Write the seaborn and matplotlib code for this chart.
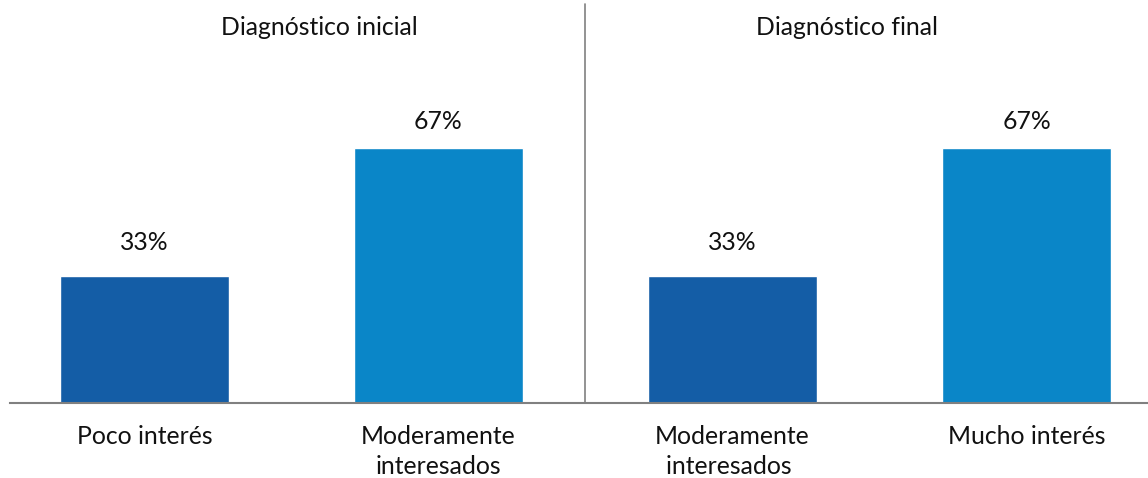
import matplotlib
matplotlib.use("Agg")
import matplotlib.pyplot as plt
import seaborn as sns
import pandas as pd

categories = ["Poco interés", "Moderamente\ninteresados", "Moderamente\ninteresados ", "Mucho interés"]
values = [33.3, 66.7, 33.3, 66.7]
labels = ["33%", "67%", "33%", "67%"]
groups = ["Diagnóstico inicial", "Diagnóstico final"]
colors = ["#145DA6", "#0A86C8", "#145DA6", "#0A86C8"]
label_pad = [8.6, 6.9, 8.6, 6.9]

df = pd.DataFrame({"cat": categories, "val": values})

sns.set_style("white")
plt.rcParams["font.family"] = ["Lato", "DejaVu Sans"]

W, H = 1148, 478
fig = plt.figure(figsize=(W / 100, H / 100), dpi=100)
base_y = 403
top_y = 21
ax = fig.add_axes([10 / W, (H - base_y) / H, 1 - 10 / W, (base_y - top_y) / H])

sns.barplot(data=df, x="cat", y="val", hue="cat", palette=colors, legend=False,
            width=0.575, saturation=1, ax=ax)

fs = 17.8
ax.set_ylim(0, 100)
ax.set_xlim(-0.457, 3.413)
for s in ["top", "right", "left"]:
    ax.spines[s].set_visible(False)
ax.spines["bottom"].set_color("#808080")
ax.spines["bottom"].set_linewidth(1.5)
ax.set_yticks([])
ax.set_xlabel("")
ax.set_ylabel("")
ax.tick_params(axis="x", length=0, pad=16, labelsize=fs, colors="#111111")
ax.set_xticks(range(4))
ax.set_xticklabels(categories, linespacing=1.38, va="top")

for i, (v, lab) in enumerate(zip(values, labels)):
    ax.text(i, v + label_pad[i], lab, ha="center", va="center", fontsize=fs, color="#111111")

ax.plot([1.5, 1.5], [0, 104.5], color="#808080", lw=1.2, clip_on=False)

ax.text(0.594, 98.3, groups[0], ha="center", va="center", fontsize=fs, color="#111111")
ax.text(2.39, 98.3, groups[1], ha="center", va="center", fontsize=fs, color="#111111")

fig.savefig("out.png", dpi=100)
